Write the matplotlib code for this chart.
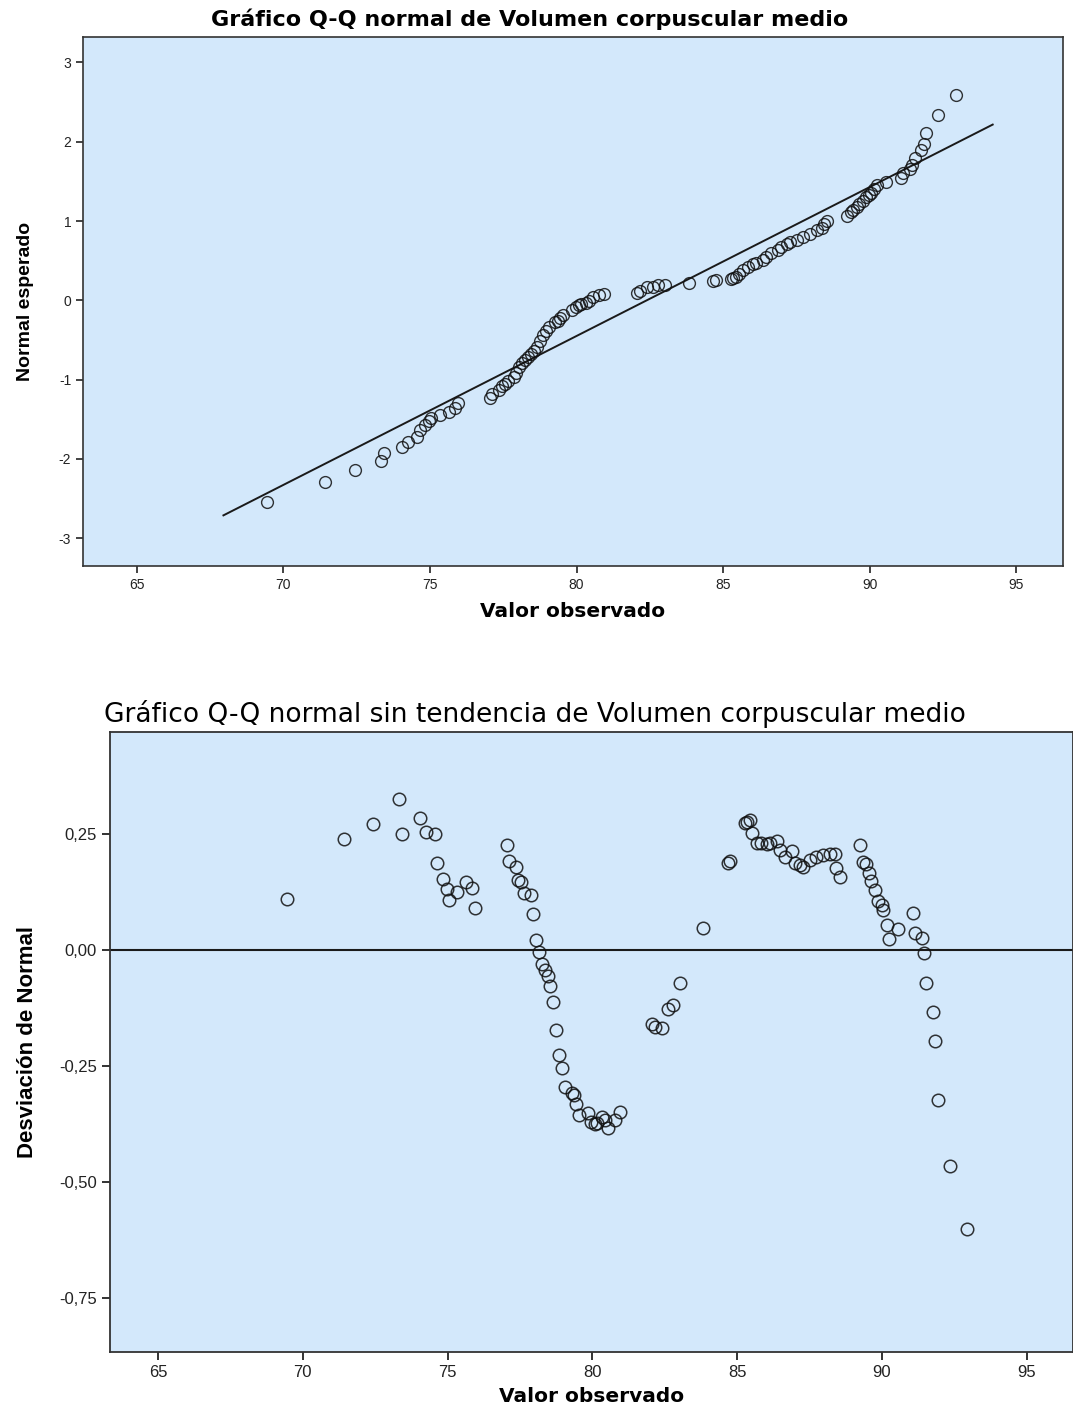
import matplotlib
matplotlib.use('Agg')
import matplotlib.pyplot as plt
import numpy as np

valor_obs = [69.44, 71.43, 72.43, 73.33, 73.44, 74.05, 74.24, 74.55, 74.65, 74.83,
             74.97, 75.05, 75.34, 75.64, 75.85, 75.95, 77.04, 77.13, 77.35, 77.44,
             77.55, 77.65, 77.87, 77.94, 78.05, 78.15, 78.25, 78.36, 78.46, 78.55,
             78.64, 78.76, 78.84, 78.95, 79.05, 79.28, 79.36, 79.45, 79.53, 79.86,
             79.97, 80.09, 80.15, 80.32, 80.43, 80.55, 80.78, 80.95, 82.05, 82.16,
             82.39, 82.62, 82.77, 83.03, 83.83, 84.67, 84.75, 85.27, 85.33, 85.44,
             85.53, 85.67, 85.84, 86.02, 86.13, 86.36, 86.48, 86.65, 86.88, 86.99,
             87.17, 87.28, 87.51, 87.74, 87.97, 88.20, 88.38, 88.43, 88.55, 89.24,
             89.36, 89.45, 89.56, 89.64, 89.76, 89.87, 89.99, 90.05, 90.16, 90.25,
             90.56, 91.06, 91.14, 91.37, 91.46, 91.54, 91.75, 91.85, 91.94, 92.35,
             92.95]

# Normal esperado (grafico Q-Q)
normal_esp = [-2.540, -2.296, -2.142, -2.026, -1.931, -1.849, -1.784, -1.721, -1.641, -1.573,
              -1.524, -1.485, -1.449, -1.414, -1.362, -1.299, -1.230, -1.179, -1.126, -1.080,
              -1.056, -1.013, -0.966, -0.912, -0.837, -0.792, -0.748, -0.713, -0.682, -0.644,
              -0.592, -0.508, -0.440, -0.391, -0.332, -0.275, -0.256, -0.221, -0.181, -0.123,
              -0.084, -0.057, -0.047, -0.030, -0.002, 0.039, 0.064, 0.078, 0.095, 0.122,
              0.167, 0.171, 0.190, 0.192, 0.222, 0.241, 0.251, 0.267, 0.276, 0.292,
              0.336, 0.385, 0.418, 0.453, 0.471, 0.510, 0.552, 0.600, 0.630, 0.676,
              0.714, 0.738, 0.766, 0.803, 0.842, 0.884, 0.916, 0.957, 0.998, 1.060,
              1.118, 1.140, 1.179, 1.212, 1.254, 1.298, 1.330, 1.352, 1.403, 1.451,
              1.489, 1.548, 1.606, 1.659, 1.708, 1.790, 1.891, 1.971, 2.116, 2.336,
              2.583]

# Desviacion de Normal (grafico sin tendencia)
desviacion = [0.109, 0.239, 0.272, 0.325, 0.251, 0.284, 0.254, 0.249, 0.188, 0.154,
              0.131, 0.107, 0.126, 0.147, 0.134, 0.090, 0.226, 0.192, 0.180, 0.151,
              0.147, 0.123, 0.118, 0.077, 0.022, -0.004, -0.029, -0.043, -0.056, -0.077,
              -0.112, -0.173, -0.226, -0.255, -0.295, -0.309, -0.313, -0.331, -0.356, -0.352,
              -0.370, -0.375, -0.373, -0.359, -0.366, -0.384, -0.366, -0.348, -0.159, -0.165,
              -0.167, -0.128, -0.119, -0.072, 0.048, 0.187, 0.192, 0.274, 0.276, 0.281,
              0.253, 0.231, 0.230, 0.228, 0.231, 0.235, 0.216, 0.200, 0.213, 0.187,
              0.183, 0.180, 0.195, 0.201, 0.205, 0.207, 0.208, 0.177, 0.158, 0.226,
              0.190, 0.185, 0.167, 0.149, 0.129, 0.106, 0.097, 0.086, 0.055, 0.024,
              0.045, 0.079, 0.036, 0.027, -0.006, -0.072, -0.134, -0.195, -0.323, -0.466,
              -0.601]

# Recta de referencia
recta_x = [67.95, 94.20]
recta_y = [-2.711, 2.216]

xticks = [65, 70, 75, 80, 85, 90, 95]
yticks_top = [-3, -2, -1, 0, 1, 2, 3]
yticks_bot = [-0.75, -0.50, -0.25, 0.00, 0.25]
ytick_lbl_bot = ['-0,75', '-0,50', '-0,25', '0,00', '0,25']

fondo = '#D3E8FB'
plt.rcParams['font.family'] = ['Liberation Sans', 'DejaVu Sans']
plt.rcParams['axes.unicode_minus'] = False

fig = plt.figure(figsize=(10.73, 14.24), dpi=100)

# ---------------- Grafico 1: Q-Q normal ----------------
ax1 = fig.add_axes([0.0774, 0.6025, 0.9133, 0.3715])
ax1.set_facecolor(fondo)
ax1.plot(recta_x, recta_y, color='#1a1a1a', lw=1.4, zorder=2)
ax1.plot(valor_obs, normal_esp, linestyle='none', marker='o', ms=8.5,
         mfc='none', mec='#111111', mew=1.0, alpha=0.85, zorder=3)
ax1.set_xlim(63.16, 96.6)
ax1.set_ylim(-3.35, 3.32)
ax1.set_xticks(xticks)
ax1.set_yticks(yticks_top)
ax1.tick_params(direction='out', length=5, width=1.2, labelsize=10, colors='#222222')
for s in ax1.spines.values():
    s.set_color('#333333')
    s.set_linewidth(1.2)
# titulo centrado en la figura (como en SPSS)
fig.text(0.494, 1 - 19/1424, 'Gráfico Q-Q normal de Volumen corpuscular medio',
         fontsize=16, fontweight='bold', family='DejaVu Sans', ha='center', va='center')
ax1.set_xlabel('Valor observado', fontsize=14.5, fontweight='bold',
               family='DejaVu Sans', labelpad=7)
ax1.set_ylabel('Normal esperado', fontsize=14, fontweight='bold',
               family=['Liberation Sans Narrow', 'Liberation Sans'], labelpad=18)

# ---------------- Grafico 2: Q-Q sin tendencia ----------------
ax2 = fig.add_axes([0.1025, 0.0506, 0.8975, 0.4354])
ax2.set_facecolor(fondo)
ax2.axhline(0, color='#1a1a1a', lw=1.5, zorder=2)
ax2.plot(valor_obs, desviacion, linestyle='none', marker='o', ms=9,
         mfc='none', mec='#111111', mew=1.1, alpha=0.85, zorder=3)
ax2.set_xlim(63.34, 96.6)
ax2.set_ylim(-0.866, 0.47)
ax2.set_xticks(xticks)
ax2.set_yticks(yticks_bot)
ax2.set_yticklabels(ytick_lbl_bot)
ax2.tick_params(direction='out', length=6, width=1.3, labelsize=12, colors='#222222')
for s in ax2.spines.values():
    s.set_color('#333333')
    s.set_linewidth(1.3)
fig.text(0.4986, 1 - 714/1424, 'Gráfico Q-Q normal sin tendencia de Volumen corpuscular medio',
         fontsize=19, family='DejaVu Sans', ha='center', va='center')
ax2.set_xlabel('Valor observado', fontsize=14.5, fontweight='bold',
               family='DejaVu Sans', labelpad=5)
ax2.set_ylabel('Desviación de Normal', fontsize=16, fontweight='bold',
               family=['Liberation Sans Narrow', 'Liberation Sans'], labelpad=15)

fig.savefig('out.png', dpi=100)
